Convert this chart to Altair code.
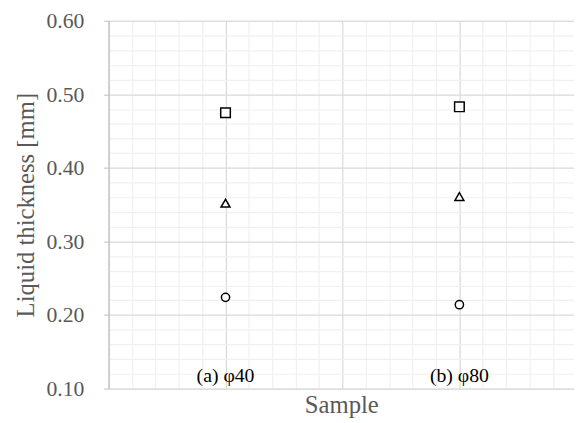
import altair as alt
import pandas as pd

samples = ["(a) φ40", "(b) φ80"]
sample_pos = [1, 2]
series = ["square", "triangle", "circle"]
values_a = [0.475, 0.352, 0.224]
values_b = [0.483, 0.361, 0.214]

rows = []
for s, v in zip(series, values_a):
    rows.append({"x": sample_pos[0], "y": v, "series": s})
for s, v in zip(series, values_b):
    rows.append({"x": sample_pos[1], "y": v, "series": s})
df = pd.DataFrame(rows)

lab = pd.DataFrame({"x": sample_pos, "label": samples, "y": [0.10, 0.10]})

y_ticks = [round(0.10 + 0.02 * i, 2) for i in range(26)]
x_ticks = [round(0.5 + 0.1 * i, 1) for i in range(20)]

FONT = "Liberation Serif"

x_scale = alt.Scale(domain=[0.5, 2.49], nice=False, zero=False)
y_scale = alt.Scale(domain=[0.10, 0.60], nice=False, zero=False)

x_axis = alt.Axis(
    values=x_ticks, tickCount=1000, labels=False, ticks=False, domain=False,
    title="Sample", titleFont=FONT, titleFontSize=25, titleFontWeight="normal",
    titleColor="#595959", titlePadding=4,
    gridColor={"condition": {"test": "round(datum.value*10) % 5 == 0", "value": "#d9d9d9"}, "value": "#f0f0f0"},
    gridWidth=1.2,
)
y_axis = alt.Axis(
    values=y_ticks, tickCount=1000, labelOverlap=False,
    labelExpr="round(datum.value*100) % 10 == 0 ? format(datum.value, '.2f') : ''",
    labelFont=FONT, labelFontSize=22, labelColor="#595959", labelPadding=20,
    tickSize=5, tickColor="#bfbfbf",
    tickOpacity={"condition": {"test": "round(datum.value*100) % 10 == 0", "value": 1}, "value": 0},
    domain=True, domainColor="#bfbfbf",
    title="Liquid thickness [mm]", titleFont=FONT, titleFontSize=25, titleFontWeight="normal",
    titleColor="#595959", titlePadding=8,
    gridColor={"condition": {"test": "round(datum.value*100) % 10 == 0", "value": "#d9d9d9"}, "value": "#f0f0f0"},
    gridWidth=1.2,
)

points = alt.Chart(df).mark_point(filled=True, fill="white", stroke="black", strokeWidth=1.5, opacity=1).encode(
    x=alt.X("x:Q", scale=x_scale, axis=x_axis),
    y=alt.Y("y:Q", scale=y_scale, axis=y_axis),
    shape=alt.Shape("series:N", scale=alt.Scale(domain=series, range=["square", "triangle-up", "circle"]), legend=None),
    size=alt.Size("series:N", scale=alt.Scale(domain=series, range=[95, 70, 85]), legend=None),
)

labels = alt.Chart(lab).mark_text(font=FONT, fontSize=20, color="black", baseline="bottom", dy=-3).encode(
    x=alt.X("x:Q", scale=x_scale),
    y=alt.Y("y:Q", scale=y_scale),
    text="label:N",
)

chart = alt.layer(points, labels).properties(
    width=472, height=373,
    autosize=alt.AutoSizeParams(type="none"),
    padding={"left": 102, "top": 10, "right": 0, "bottom": 32},
).configure_view(stroke=None).configure(background="white")

chart.save("out.html", embed_options={"renderer": "svg", "actions": False})
